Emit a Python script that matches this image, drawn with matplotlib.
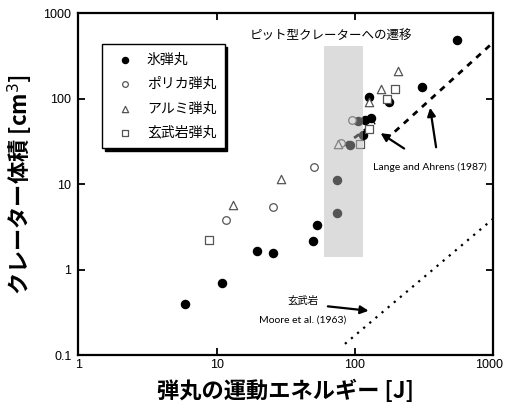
import matplotlib
matplotlib.use("Agg")
import matplotlib.pyplot as plt
import matplotlib.transforms as mtransforms
from matplotlib.patches import Rectangle

plt.rcParams['font.family'] = ['Liberation Sans', 'Noto Sans CJK JP', 'DejaVu Sans']
JP = ['Noto Sans CJK JP', 'DejaVu Sans']

# ice projectiles (kinetic energy [J], crater volume [cm3])
ice_e = [5.9, 10.9, 19.7, 25.7, 50, 53, 75, 75, 92, 106, 115, 118, 132, 126, 177, 307, 551]
ice_v = [0.39, 0.69, 1.66, 1.57, 2.17, 3.3, 4.6, 11.1, 29, 54.6, 37, 56, 60, 103, 91, 137, 483]

# polycarbonate
poly_e = [11.8, 25.7, 51, 80, 96]
poly_v = [3.8, 5.4, 15.7, 30, 56]

# aluminum
alu_e = [13.1, 29.5, 76, 126, 154, 206]
alu_v = [5.7, 11.4, 29.4, 91, 128, 210]

# basalt
bas_e = [8.8, 109, 126, 170, 195]
bas_v = [2.2, 29.4, 43.6, 98, 130]

# Lange and Ahrens (1987) fits
lange_e = [195, 1000]
lange_v = [41, 450]
lange2_e = [84, 140]
lange2_v = [28.5, 52]

# Moore et al. (1963) basalt
moore_e = [85, 1000]
moore_v = [0.135, 3.9]

# pit crater transition band
band_e = [60, 114]
band_v = [1.39, 415]

fig = plt.figure(figsize=(5.06, 4.09), dpi=100)
ax = fig.add_axes([0.155, 0.132, 0.819, 0.836])

ax.scatter(ice_e, ice_v, s=34, c='black', marker='o', label='氷弾丸', zorder=3)
ax.scatter(poly_e, poly_v, s=30, facecolors='white', edgecolors='#555555',
           linewidths=0.9, marker='o', label='ポリカ弾丸', zorder=3)
ax.scatter(alu_e, alu_v, s=36, facecolors='white', edgecolors='#555555',
           linewidths=0.9, marker='^', label='アルミ弾丸', zorder=3)
ax.scatter(bas_e, bas_v, s=34, facecolors='white', edgecolors='#555555',
           linewidths=0.9, marker='s', label='玄武岩弾丸', zorder=3)

ax.plot(lange_e, lange_v, color='black', ls=(0, (2.2, 2.2)), lw=2, zorder=2)
ax.plot(lange2_e, lange2_v, color='black', ls=(0, (2.2, 2.2)), lw=2, zorder=2)
ax.plot(moore_e, moore_v, color='black', ls=(0, (1, 2.6)), lw=1.6, zorder=2)

ax.add_patch(Rectangle((band_e[0], band_v[0]), band_e[1] - band_e[0], band_v[1] - band_v[0],
                       facecolor='#b6b6b6', alpha=0.47, edgecolor='none', zorder=4))

ax.text(67, 540, 'ピット型クレーターへの遷移', family=JP, fontsize=9, ha='center', va='center')

ax.annotate('', xy=(148, 41), xytext=(237, 25),
            arrowprops=dict(arrowstyle='-|>', color='black', lw=1.6, mutation_scale=12))
ax.annotate('', xy=(349, 84), xytext=(391, 25),
            arrowprops=dict(arrowstyle='-|>', color='black', lw=1.6, mutation_scale=12))
ax.text(349, 15.9, 'Lange and Ahrens (1987)', family=['Lato', 'DejaVu Sans'], fontsize=7.5,
        ha='center', va='center')

ax.annotate('', xy=(132, 0.327), xytext=(61, 0.374),
            arrowprops=dict(arrowstyle='-|>', color='black', lw=1.6, mutation_scale=12))
ax.text(42, 0.44, '玄武岩', family=JP, fontsize=7.5, ha='center', va='center')
ax.text(42, 0.256, 'Moore et al. (1963)', family=['Lato', 'DejaVu Sans'], fontsize=7.5,
        ha='center', va='center')

ax.set_xscale('log')
ax.set_yscale('log')
ax.set_xlim(1, 1000)
ax.set_ylim(0.1, 1000)
ax.set_xticks([1, 10, 100, 1000])
ax.set_xticklabels(['1', '10', '100', '1000'])
ax.set_yticks([0.1, 1, 10, 100, 1000])
ax.set_yticklabels(['0.1', '1', '10', '100', '1000'])
ax.minorticks_off()
ax.tick_params(axis='both', which='major', direction='in', length=5, width=1.3,
               top=True, right=True, labelsize=9)
ax.tick_params(axis='x', pad=3)
ax.tick_params(axis='y', pad=5)
for sp in ax.spines.values():
    sp.set_linewidth(1.6)

# nudge the last x tick label so it stays inside the figure
last = ax.get_xticklabels()[-1]
last.set_transform(last.get_transform() + mtransforms.ScaledTranslation(-4 / 100, 0, fig.dpi_scale_trans))

ax.set_xlabel('弾丸の運動エネルギー [J]', family=JP, fontsize=16, fontweight='bold', labelpad=6)
ax.set_ylabel('クレーター体積 [cm$^3$]', family=JP, fontsize=16, fontweight='bold', labelpad=6)

leg = ax.legend(loc='upper left', bbox_to_anchor=(0.058, 0.909), borderaxespad=0,
                prop={'family': JP, 'size': 10}, frameon=True, fancybox=False,
                shadow={'facecolor': 'black', 'edgecolor': 'black', 'alpha': 1.0},
                edgecolor='black', markerscale=0.75, labelspacing=0.75, handletextpad=0.6,
                borderpad=0.6, scatterpoints=1)
leg.get_frame().set_linewidth(1.0)

fig.savefig('out.png', dpi=100)
